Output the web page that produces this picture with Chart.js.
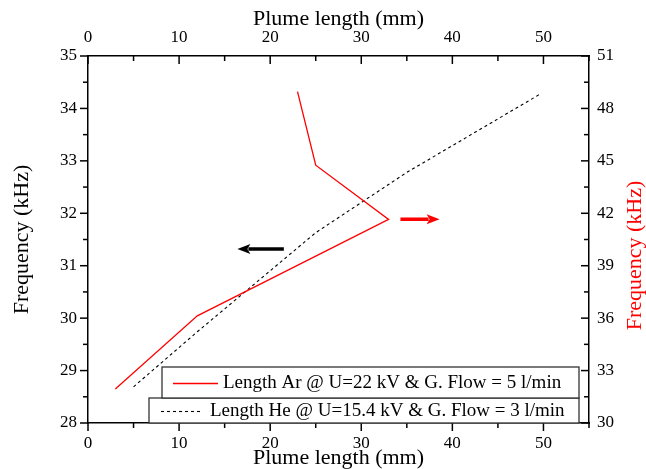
<!DOCTYPE html>
<html>
<head>
<meta charset="utf-8">
<script src="https://cdn.jsdelivr.net/npm/chart.js@4/dist/chart.umd.min.js"></script>
<style>
  html, body { margin: 0; padding: 0; background: #ffffff; }
  #wrap { width: 646px; height: 469px; }
</style>
</head>
<body>
<div id="wrap"><canvas id="c" width="646" height="469"></canvas></div>
<script>
// ---- data ----
const plumeTicks = [0, 10, 20, 30, 40, 50];
const leftFreqTicks = [28, 29, 30, 31, 32, 33, 34, 35];
const rightFreqTicks = [30, 33, 36, 39, 42, 45, 48, 51];

const arLength = [3, 12, 33, 25, 23];
const arFreq = [31.95, 36.13, 41.65, 44.75, 48.96];

const heLength = [5, 12, 25, 35, 49.5];
const heFreq = [28.69, 29.74, 31.63, 32.78, 34.26];

const arLabel = 'Length Ar @ U=22 kV & G. Flow = 5 l/min';
const heLabel = 'Length He @ U=15.4 kV & G. Flow = 3 l/min';
const xTitle = 'Plume length (mm)';
const yTitle = 'Frequency (kHz)';

// ---- styling ----
const SERIF = "'Liberation Serif', 'Times New Roman', serif";
const RED = '#ff0000';

function pts(xs, ys) { return xs.map((x, i) => ({ x: x, y: ys[i] })); }

function fixTicks(values) {
  return function (scale) { scale.ticks = values.map(v => ({ value: v })); };
}

const tickFont = { family: SERIF, size: 17 };
const titleFont = { family: SERIF, size: 22, lineHeight: 1 };

// tick marks drawn from each scale (major + minor), inward/outward like the reference
const tickMarks = {
  id: 'tickMarks',
  afterDraw(chart) {
    const ctx = chart.ctx;
    const a = chart.chartArea;
    const specs = [
      { id: 'x', vals: plumeTicks, dir: 'down', base: a.bottom },
      { id: 'x2', vals: plumeTicks, dir: 'down', base: a.top },
      { id: 'y', vals: leftFreqTicks, dir: 'left', base: a.left },
      { id: 'y2', vals: rightFreqTicks, dir: 'left', base: a.right }
    ];
    ctx.save();
    ctx.strokeStyle = '#000';
    ctx.lineWidth = 1.5;
    specs.forEach(s => {
      const sc = chart.scales[s.id];
      const all = [];
      s.vals.forEach((v, i) => {
        all.push({ v: v, len: 8 });
        if (i < s.vals.length - 1) all.push({ v: (v + s.vals[i + 1]) / 2, len: 5 });
      });
      const step = s.vals[1] - s.vals[0];
      const extra = s.vals[s.vals.length - 1] + step / 2;
      if (extra <= sc.max) all.push({ v: extra, len: 5 });
      all.forEach(t => {
        const p = sc.getPixelForValue(t.v);
        ctx.beginPath();
        if (s.dir === 'down') {
          ctx.moveTo(p, s.base);
          ctx.lineTo(p, s.base + t.len);
        } else {
          ctx.moveTo(s.base, p);
          ctx.lineTo(s.base - t.len, p);
        }
        ctx.stroke();
      });
    });
    ctx.restore();
  }
};

// right-hand axis title, reading bottom-to-top like the reference
const rightTitle = {
  id: 'rightTitle',
  afterDraw(chart) {
    const ctx = chart.ctx;
    const a = chart.chartArea;
    ctx.save();
    ctx.translate(chart.width - 11, (a.top + a.bottom) / 2 + 16);
    ctx.rotate(-Math.PI / 2);
    ctx.font = '22px ' + SERIF;
    ctx.fillStyle = RED;
    ctx.textAlign = 'center';
    ctx.textBaseline = 'middle';
    ctx.fillText(yTitle, 0, 0);
    ctx.restore();
  }
};

// direction arrows (placed in data coordinates of their axes)
const arrows = {
  id: 'arrows',
  afterDatasetsDraw(chart) {
    const ctx = chart.ctx;
    const list = [
      { y: 'y', from: 21.5, to: 16.4, at: 31.32, color: '#000' },
      { y: 'y2', from: 34.3, to: 38.6, at: 41.66, color: RED }
    ];
    ctx.save();
    list.forEach(ar => {
      const xs = chart.scales.x, ys = chart.scales[ar.y];
      const x0 = xs.getPixelForValue(ar.from), x1 = xs.getPixelForValue(ar.to);
      const yy = ys.getPixelForValue(ar.at);
      const dirn = Math.sign(x1 - x0);
      const head = 13;
      ctx.strokeStyle = ar.color;
      ctx.fillStyle = ar.color;
      ctx.lineWidth = 3.5;
      ctx.beginPath();
      ctx.moveTo(x0, yy);
      ctx.lineTo(x1 - dirn * (head - 2), yy);
      ctx.stroke();
      ctx.beginPath();
      ctx.moveTo(x1, yy);
      ctx.lineTo(x1 - dirn * head, yy - 5);
      ctx.lineTo(x1 - dirn * (head - 3), yy);
      ctx.lineTo(x1 - dirn * head, yy + 5);
      ctx.closePath();
      ctx.fill();
    });
    ctx.restore();
  }
};

// two stacked legend boxes like the reference
const boxLegend = {
  id: 'boxLegend',
  afterDraw(chart) {
    const ctx = chart.ctx;
    const a = chart.chartArea;
    const ds = chart.data.datasets;
    const right = a.right - 10;
    ctx.save();
    ctx.font = '19px ' + SERIF;
    ctx.textBaseline = 'middle';
    ctx.textAlign = 'left';
    const heL = a.left + 61, heT = a.bottom - 25, heB = a.bottom;
    ctx.fillStyle = '#fff';
    ctx.fillRect(heL, heT, right - heL, heB - heT);
    ctx.strokeStyle = '#333';
    ctx.lineWidth = 1.3;
    ctx.strokeRect(heL, heT, right - heL, heB - heT);
    const arL = a.left + 74, arT = a.bottom - 56, arB = a.bottom - 25;
    ctx.fillRect(arL, arT, right - arL, arB - arT);
    ctx.strokeRect(arL, arT, right - arL, arB - arT);
    const arY = (arT + arB) / 2 + 1, heY = (heT + heB) / 2 + 1;
    ctx.strokeStyle = ds[0].borderColor;
    ctx.lineWidth = ds[0].borderWidth;
    ctx.setLineDash([]);
    ctx.beginPath(); ctx.moveTo(arL + 11, arY); ctx.lineTo(arL + 56, arY); ctx.stroke();
    ctx.strokeStyle = ds[1].borderColor;
    ctx.lineWidth = ds[1].borderWidth;
    ctx.setLineDash(ds[1].borderDash);
    ctx.beginPath(); ctx.moveTo(heL + 12, heY); ctx.lineTo(heL + 54, heY); ctx.stroke();
    ctx.setLineDash([]);
    ctx.fillStyle = '#000';
    ctx.fillText(ds[0].label, arL + 61, arY);
    ctx.fillText(ds[1].label, heL + 61, heY);
    ctx.restore();
  }
};

new Chart(document.getElementById('c'), {
  type: 'scatter',
  data: {
    datasets: [
      {
        label: arLabel,
        data: pts(arLength, arFreq),
        xAxisID: 'x', yAxisID: 'y2',
        showLine: true, borderColor: RED, backgroundColor: RED,
        borderWidth: 1.3, pointRadius: 0, tension: 0
      },
      {
        label: heLabel,
        data: pts(heLength, heFreq),
        xAxisID: 'x', yAxisID: 'y',
        showLine: true, borderColor: '#000', backgroundColor: '#000',
        borderWidth: 1.1, borderDash: [3, 3], pointRadius: 0, tension: 0
      }
    ]
  },
  options: {
    responsive: false,
    devicePixelRatio: 1,
    animation: false,
    layout: { padding: 0 },
    plugins: { legend: { display: false }, tooltip: { enabled: false } },
    scales: {
      x: {
        type: 'linear', position: 'bottom', min: 0, max: 55,
        afterBuildTicks: fixTicks(plumeTicks),
        afterFit(s) { s.height = 46; },
        grid: { display: false, drawTicks: false },
        border: { display: true, color: '#000', width: 1.5 },
        ticks: { color: '#000', font: tickFont, padding: 10, maxRotation: 0 },
        title: { display: true, text: xTitle, color: '#000', font: titleFont, padding: { top: 0, bottom: 0 } }
      },
      x2: {
        type: 'linear', position: 'top', min: 0, max: 55,
        afterBuildTicks: fixTicks(plumeTicks),
        afterFit(s) { s.height = 56; },
        grid: { display: false, drawTicks: false },
        border: { display: true, color: '#000', width: 1.5 },
        ticks: { color: '#000', font: tickFont, padding: 8, maxRotation: 0 },
        title: { display: true, text: xTitle, color: '#000', font: titleFont, padding: { top: 8, bottom: 0 } }
      },
      y: {
        type: 'linear', position: 'left', min: 28, max: 35,
        afterBuildTicks: fixTicks(leftFreqTicks),
        afterFit(s) { s.width = 88; },
        grid: { display: false, drawTicks: false },
        border: { display: true, color: '#000', width: 1.5 },
        ticks: { color: '#000', font: tickFont, padding: 11 },
        title: { display: true, text: yTitle, color: '#000', font: titleFont, padding: { top: 11, bottom: 0 } }
      },
      y2: {
        type: 'linear', position: 'right', min: 30, max: 51,
        afterBuildTicks: fixTicks(rightFreqTicks),
        afterFit(s) { s.width = 57; },
        grid: { display: false, drawTicks: false },
        border: { display: true, color: '#000', width: 1.5 },
        ticks: { color: '#000', font: tickFont, padding: 8 },
        title: { display: false }
      }
    }
  },
  plugins: [tickMarks, arrows, boxLegend, rightTitle]
});
</script>
</body>
</html>
